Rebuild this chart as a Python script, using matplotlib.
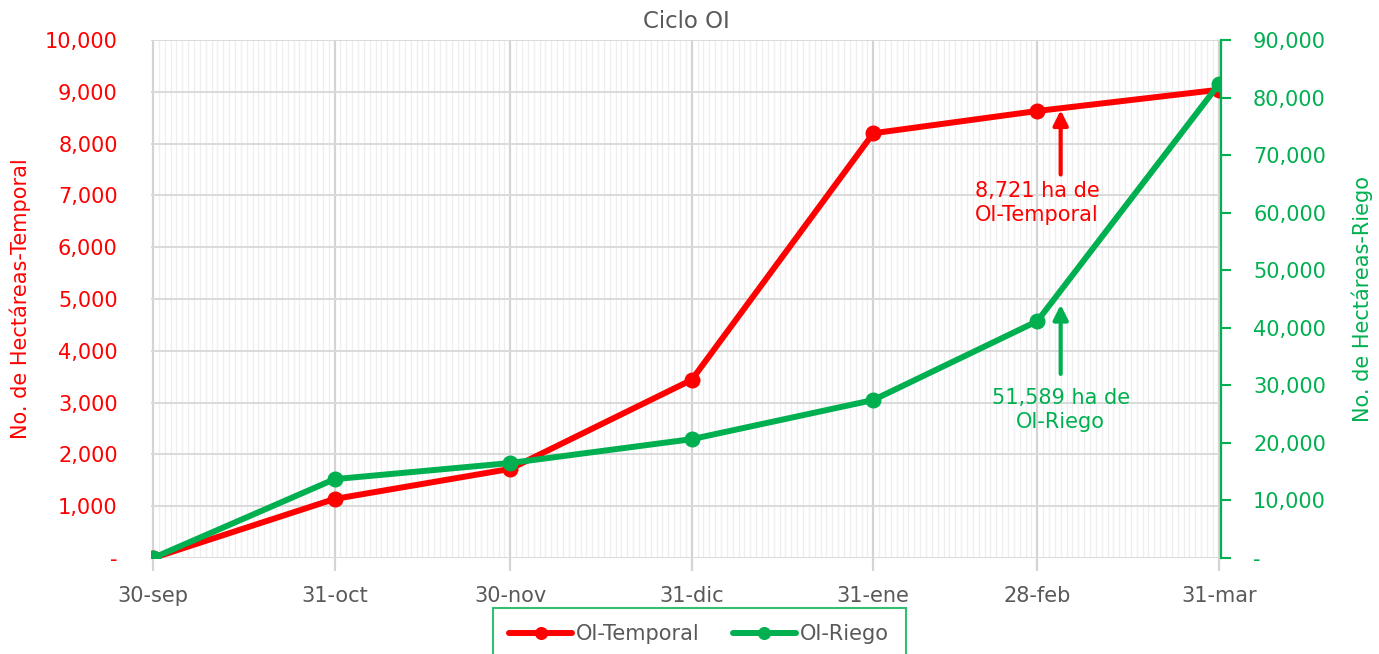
import numpy as np
import matplotlib
matplotlib.use('Agg')
import matplotlib.pyplot as plt
from datetime import datetime, timedelta

plt.rcParams['font.family'] = ['DejaVu Sans']

fechas = ['2022-09-30', '2022-10-31', '2022-11-30', '2022-12-31',
          '2023-01-31', '2023-02-28', '2023-03-31']
etiquetas = ['30-sep', '31-oct', '30-nov', '31-dic', '31-ene', '28-feb', '31-mar']
temporal = [0, 1140, 1720, 3440, 8200, 8630, 9040]
riego = [0, 13700, 16500, 20650, 27450, 41150, 82300]

rojo = '#ff0000'
verde = '#00b050'
gris = '#595959'
fs = 15

x = [datetime.strptime(f, '%Y-%m-%d') for f in fechas]

fig = plt.figure(figsize=(13.79, 6.54), dpi=100)
ax = fig.add_axes([0.1095, 0.1468, 0.776, 0.792])
ax2 = ax.twinx()

# rejilla diaria
dias = [x[0] + timedelta(days=i) for i in range((x[-1] - x[0]).days + 1)]
ax.set_xticks(dias, minor=True)
ax.set_xticks(x)
ax.set_xticklabels(etiquetas)
ax.grid(which='minor', axis='x', color='#eeeeee', lw=0.9)
ax.grid(which='major', axis='x', color='#d4d4d4', lw=1.6)
ax.grid(which='major', axis='y', color='#dadada', lw=1.4)
ax.tick_params(axis='x', which='minor', length=0)
ax.tick_params(axis='x', which='major', length=9, width=1.6, color='#d4d4d4',
               labelsize=fs, labelcolor=gris, pad=11)
ax.set_xlim(x[0] - timedelta(days=0.35), x[-1] + timedelta(days=0.4))

ax.plot(x, temporal, color=rojo, lw=4.3, marker='o', ms=10.5, label='OI-Temporal',
        solid_capstyle='round', zorder=3)
ax.set_ylim(0, 10000)
ax.set_yticks(np.arange(0, 10001, 1000))
ax.set_yticklabels(['-'] + ['{:,}'.format(v) for v in range(1000, 10001, 1000)])
ax.tick_params(axis='y', length=0, labelsize=fs, labelcolor=rojo, pad=24)
ax.set_ylabel('No. de Hectáreas-Temporal', color=rojo, fontsize=fs, labelpad=10)

ax2.plot(x, riego, color=verde, lw=4.3, marker='o', ms=10.5, label='OI-Riego',
         solid_capstyle='round', zorder=3)
ax2.set_ylim(0, 90000)
ax2.set_yticks(np.arange(0, 90001, 10000))
ax2.set_yticklabels(['-'] + ['{:,}'.format(v) for v in range(10000, 90001, 10000)])
ax2.tick_params(axis='y', length=7, width=1.5, color=verde, labelsize=fs,
                labelcolor=verde, pad=16)
ax2.set_ylabel('No. de Hectáreas-Riego', color=verde, fontsize=fs, labelpad=18)

for a in (ax, ax2):
    for s in ('top', 'bottom', 'left', 'right'):
        a.spines[s].set_visible(False)
ax2.spines['right'].set_visible(True)
ax2.spines['right'].set_color(verde)
ax2.spines['right'].set_linewidth(1.6)

ax.set_title('Ciclo OI', color=gris, fontsize=16.5, pad=9)

# anotaciones
xa = x[5] + timedelta(days=4)
ax.annotate('', xy=(xa, 8700), xytext=(xa, 7350),
            arrowprops=dict(arrowstyle='-|>', color=rojo, lw=3, mutation_scale=22))
ax.text(x[5], 6850, '8,721 ha de\nOI-Temporal', color=rojo, fontsize=fs,
        ha='center', va='center', linespacing=1.25)
ax2.annotate('', xy=(xa, 44500), xytext=(xa, 31500),
             arrowprops=dict(arrowstyle='-|>', color=verde, lw=3, mutation_scale=22))
ax2.text(xa, 25800, '51,589 ha de\nOI-Riego', color=verde, fontsize=fs,
         ha='center', va='center', linespacing=1.25)

h1, l1 = ax.get_legend_handles_labels()
h2, l2 = ax2.get_legend_handles_labels()
leg = fig.legend(h1 + h2, l1 + l2, loc='center', bbox_to_anchor=(0.507, 0.03),
                 ncol=2, fontsize=fs, frameon=True, fancybox=False,
                 borderpad=0.8, handlelength=3.0, columnspacing=1.6,
                 handletextpad=0.2, markerscale=0.8)
leg.get_frame().set_edgecolor(verde)
leg.get_frame().set_linewidth(1.5)
for t in leg.get_texts():
    t.set_color(gris)

fig.savefig('out.png', dpi=100)
